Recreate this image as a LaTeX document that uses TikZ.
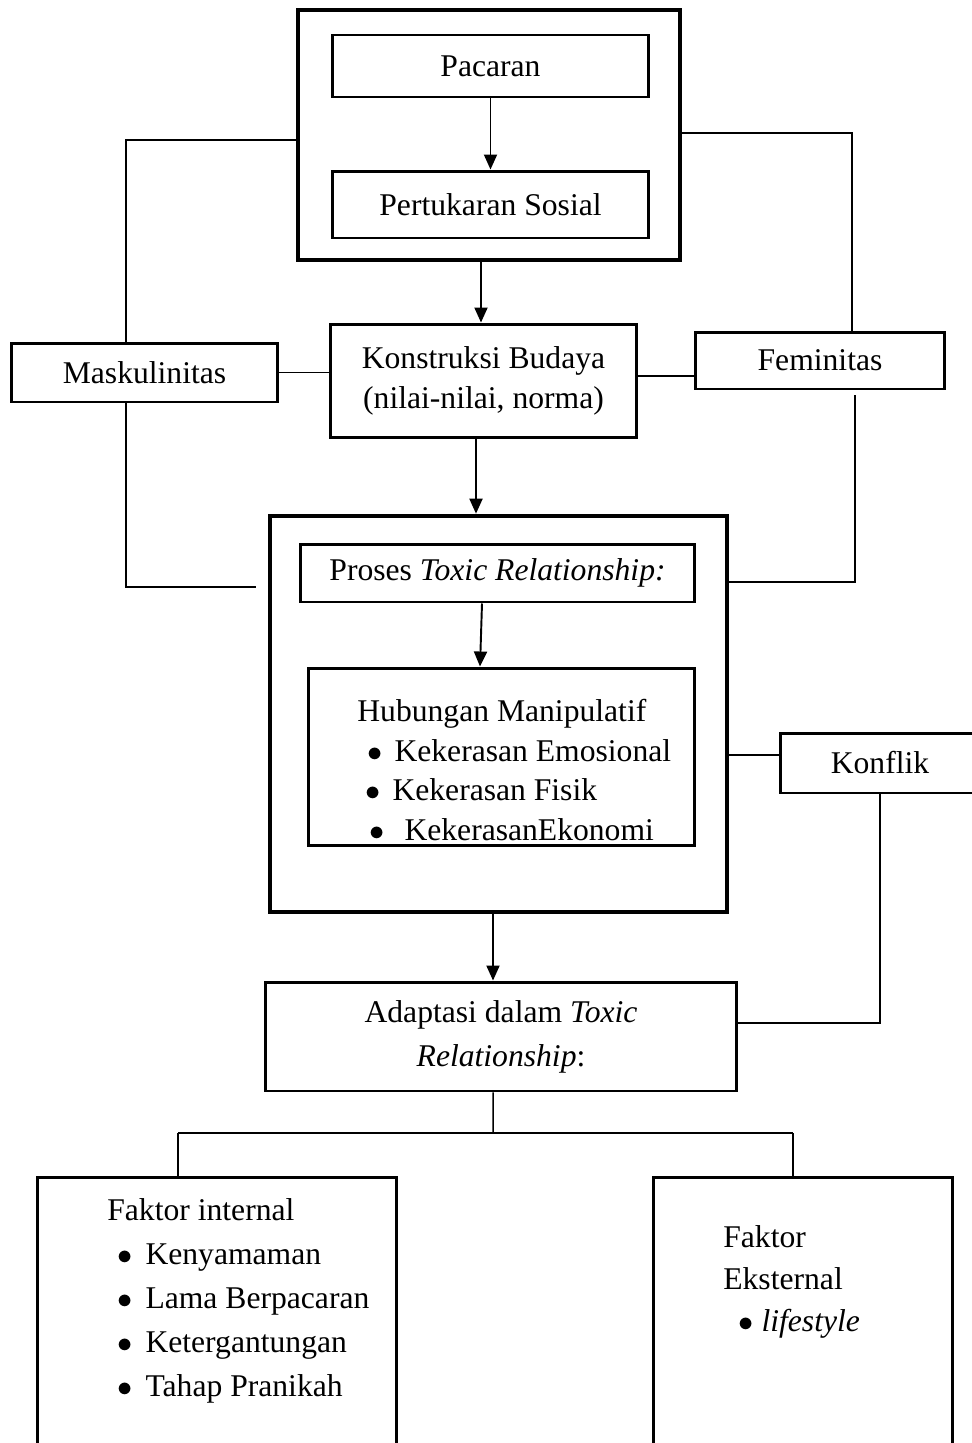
\documentclass[tikz,border=0pt]{standalone}
\usepackage{fontspec}
\setmainfont{Liberation Serif}
\usetikzlibrary{positioning,arrows.meta}

\begin{document}
\begin{tikzpicture}[
    x=0.02cm, y=-0.02cm,
    box/.style={rectangle, draw, line width=1.7pt, inner sep=0pt, align=center, font=\fontsize{18}{23}\selectfont},
    frame/.style={rectangle, draw, line width=2.7pt, inner sep=0pt},
    txt/.style={inner sep=0pt, align=left, anchor=north west, font=\fontsize{18}{22.5}\selectfont},
    link/.style={draw, line width=0.85pt},
    arrow/.style={draw, line width=1.1pt, -{Triangle[length=3mm, width=2.6mm]}},
]
\clip (0,0) rectangle (972,1443);

% Outer frames
\node[frame, minimum width=7.64cm, minimum height=5cm] (top) at (489,135) {};
\node[frame, minimum width=9.14cm, minimum height=7.92cm] (proc) at (498.5,714) {};

% Boxes
\node[box, minimum width=6.34cm, minimum height=1.24cm] (pacaran) at (490.5,66) {Pacaran};
\node[box, minimum width=6.34cm, minimum height=1.34cm] (sosial) at (490.5,204.5) {Pertukaran Sosial};
\node[box, minimum width=6.14cm, minimum height=2.28cm] (budaya) at (483.5,381) {Konstruksi Budaya\\(nilai-nilai, norma)};
\node[box, minimum width=5.34cm, minimum height=1.18cm] (maskulin) at (144.5,372.5) {Maskulinitas};
\node[box, minimum width=5cm, minimum height=1.14cm] (feminin) at (820,360.5) {Feminitas};
\node[box, minimum width=7.9cm, minimum height=1.16cm] (proses) at (497.5,573) {Proses \textit{Toxic Relationship:}};
\node[box, minimum width=7.74cm, minimum height=3.56cm] (hubungan) at (501.5,757) {};
\node[box, minimum width=4cm, minimum height=1.2cm] (konflik) at (880,763) {Konflik};
\node[box, minimum width=9.44cm, minimum height=2.18cm, font=\fontsize{18}{25}\selectfont] (adaptasi) at (501,1036.5) {Adaptasi dalam \textit{Toxic}\\\textit{Relationship}:};
\node[box, minimum width=7.2cm, minimum height=6.46cm] (internal) at (217,1338.5) {};
\node[box, minimum width=6cm, minimum height=6.46cm] (eksternal) at (803,1338.5) {};

% Texts in boxes
\node[txt] (hubtxt) at (357,699) {Hubungan Manipulatif\\
    \hspace*{0.2cm}$\bullet$\hspace{0.24cm}Kekerasan Emosional\\
    \hspace*{0.16cm}$\bullet$\hspace{0.24cm}Kekerasan Fisik\\
    \hspace*{0.24cm}$\bullet$\hspace{0.4cm}KekerasanEkonomi};
\node[txt, font=\fontsize{18}{25}\selectfont] (inttxt) at (107,1198) {Faktor internal\\
    \hspace*{0.2cm}$\bullet$\hspace{0.26cm}Kenyamaman\\
    \hspace*{0.2cm}$\bullet$\hspace{0.26cm}Lama Berpacaran\\
    \hspace*{0.2cm}$\bullet$\hspace{0.26cm}Ketergantungan\\
    \hspace*{0.2cm}$\bullet$\hspace{0.26cm}Tahap Pranikah};
\node[txt, font=\fontsize{18}{24}\selectfont] (ekstxt) at (723,1225) {Faktor\\
    Eksternal\\
    \hspace*{0.3cm}$\bullet$\hspace{0.16cm}\textit{lifestyle}};

% Side links
\coordinate (mk) at (126,140);
\coordinate (fm) at (852,133);
\draw[link] (top.west |- mk) -- (mk) -- (mk |- maskulin.north);
\draw[link] (top.east |- fm) -- (fm) -- (fm |- feminin.north);
\draw[link] (maskulin.east) -- (maskulin.east -| budaya.west);
\draw[link] ([yshift=0.1cm]budaya.east) -- ([yshift=0.1cm]budaya.east -| feminin.west);

\coordinate (mkend) at (256,587);
\draw[link] (mk |- maskulin.south) -- (mk |- mkend) -- (mkend);
\coordinate (fmtop) at (855,395);
\coordinate (fmend) at (855,582);
\draw[link] (fmtop) -- (fmend) -- (fmend -| proc.east);

\coordinate (kfin) at (760,755);
\coordinate (kf) at (880,1023);
\draw[link] (proc.east |- kfin) -- (konflik.west |- kfin);
\draw[link] (kf |- konflik.south) -- (kf) -- (kf -| adaptasi.east);

% Arrows
\draw[arrow] (pacaran) -- (sosial);
\draw[arrow] ([xshift=-0.05cm]budaya.north |- top.south) -- ([xshift=-0.05cm]budaya.north);
\draw[arrow] ([xshift=-0.15cm]budaya.south) -- ([xshift=-0.15cm]budaya.south |- proc.north);
\draw[arrow] ([xshift=-0.31cm]proses.south) -- ([xshift=-0.43cm]hubungan.north);
\draw[arrow] ([xshift=-0.16cm]adaptasi.north |- proc.south) -- ([xshift=-0.16cm]adaptasi.north);

% Split to factors
\coordinate (split) at (493,1133);
\coordinate (sl) at (178,1133);
\coordinate (sr) at (793,1133);
\draw[link] ([xshift=-0.16cm]adaptasi.south) -- (split);
\draw[link] (sl) -- (sr);
\draw[link] (sl) -- (sl |- internal.north);
\draw[link] (sr) -- (sr |- eksternal.north);

\end{tikzpicture}
\end{document}
